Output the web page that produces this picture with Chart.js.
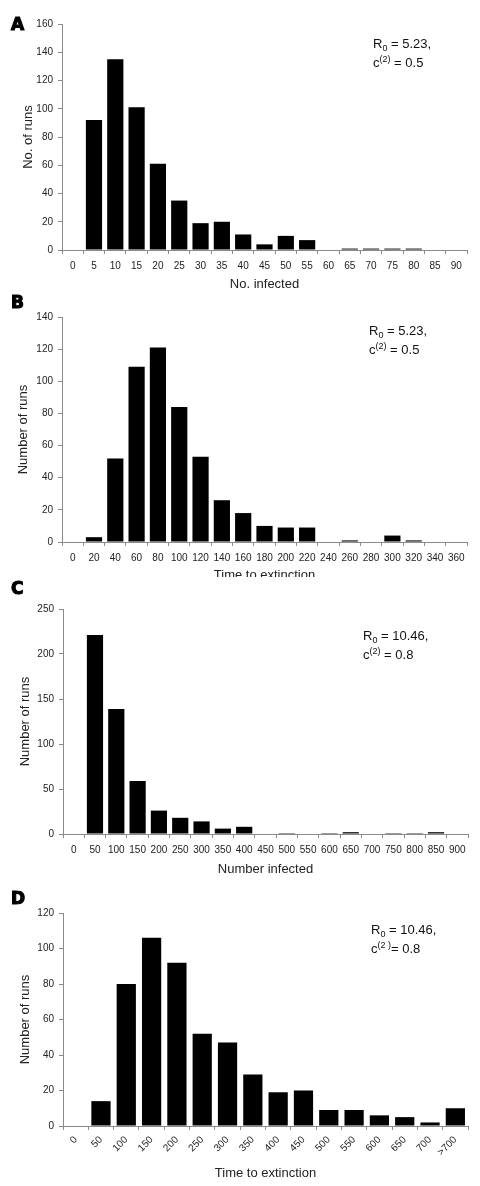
<!DOCTYPE html>
<html>
<head>
<meta charset="utf-8">
<script src="https://cdn.jsdelivr.net/npm/chart.js@4/dist/chart.umd.min.js"></script>
<style>
  html, body { margin: 0; padding: 0; background: #fff; }
  body { width: 480px; height: 1186px; position: relative; overflow: hidden; font-family: "Liberation Sans", Arial, sans-serif; }
  .panel { position: absolute; left: 0; width: 480px; overflow: hidden; }
  .panel canvas { display: block; }
  .letter { position: absolute; left: 11px; font: bold 17px "DejaVu Sans", sans-serif; line-height: 16px; color: #000; -webkit-text-stroke: 1.1px #000; }
  .note { position: absolute; font-size: 13px; line-height: 19px; color: #111; }
  .note sub { font-size: 9px; vertical-align: -3px; line-height: 0; }
  .note sup { font-size: 9px; vertical-align: 5px; line-height: 0; }
</style>
</head>
<body>
<div class="panel" style="top:0;height:292px"><canvas id="chartA"></canvas></div>
<div class="panel" style="top:290px;height:287px"><canvas id="chartB"></canvas></div>
<div class="panel" style="top:590px;height:287px"><canvas id="chartC"></canvas></div>
<div class="panel" style="top:880px;height:301px"><canvas id="chartD"></canvas></div>

<div class="letter" style="top:16px">A</div>
<div class="letter" style="top:294px">B</div>
<div class="letter" style="top:580px">C</div>
<div class="letter" style="top:890px">D</div>

<div class="note" style="left:373px;top:34px">R<sub>0</sub> = 5.23,<br>c<sup>(2)</sup> = 0.5</div>
<div class="note" style="left:369px;top:321px">R<sub>0</sub> = 5.23,<br>c<sup>(2)</sup> = 0.5</div>
<div class="note" style="left:363px;top:626px">R<sub>0</sub> = 10.46,<br>c<sup>(2)</sup> = 0.8</div>
<div class="note" style="left:371px;top:920px">R<sub>0</sub> = 10.46,<br>c<sup>(2 )</sup>= 0.8</div>

<script>
// panel A - number infected, R0 = 5.23
const labelsA = ['0','5','10','15','20','25','30','35','40','45','50','55','60','65','70','75','80','85','90'];
const runsA = [0, 92, 135, 101, 61, 35, 19, 20, 11, 4, 10, 7, 0, 1, 1, 1, 1, 0, 0];

// panel B - time to extinction, R0 = 5.23
const labelsB = ['0','20','40','60','80','100','120','140','160','180','200','220','240','260','280','300','320','340','360'];
const runsB = [0, 3, 52, 109, 121, 84, 53, 26, 18, 10, 9, 9, 0, 1, 0, 4, 1, 0, 0];

// panel C - number infected, R0 = 10.46
const labelsC = ['0','50','100','150','200','250','300','350','400','450','500','550','600','650','700','750','800','850','900'];
const runsC = [0, 221, 139, 59, 26, 18, 14, 6, 8, 0, 1, 0, 1, 2, 0, 1, 1, 2, 0];

// panel D - time to extinction, R0 = 10.46
const labelsD = ['0','50','100','150','200','250','300','350','400','450','500','550','600','650','700','>700'];
const runsD = [0, 14, 80, 106, 92, 52, 47, 29, 19, 20, 9, 9, 6, 5, 2, 10];

const axisGrey = '#8a8a8a';
const textCol = '#222';

function makeChart(id, labels, values, yMax, yStep, xTitle, yTitle, g) {
  const cv = document.getElementById(id);
  cv.width = 480;
  cv.height = g.h;
  cv.style.width = '480px';
  cv.style.height = g.h + 'px';
  return new Chart(cv.getContext('2d'), {
    type: 'bar',
    data: {
      labels: labels,
      datasets: [{
        data: values,
        backgroundColor: '#000',
        borderWidth: 0,
        barPercentage: 0.76,
        categoryPercentage: 1
      }]
    },
    options: {
      responsive: false,
      animation: false,
      layout: { padding: { top: g.top, right: g.right, left: 0, bottom: 0 } },
      plugins: { legend: { display: false }, tooltip: { enabled: false } },
      scales: {
        x: {
          offset: true,
          grid: { offset: true, drawOnChartArea: false, drawTicks: true, tickLength: 4, color: axisGrey },
          border: { color: axisGrey, width: 1 },
          ticks: {
            autoSkip: false,
            maxRotation: g.rot, minRotation: g.rot,
            padding: g.rot ? 4 : 6,
            color: textCol,
            font: { family: 'Liberation Sans', size: 10 }
          },
          title: {
            display: true, text: xTitle, color: textCol,
            padding: { top: 0, bottom: 0 },
            font: { family: 'Liberation Sans', size: 13 }
          },
          afterFit: (s) => { s.height = g.xh; }
        },
        y: {
          min: 0, max: yMax,
          grid: { drawOnChartArea: false, drawTicks: true, tickLength: 4, color: axisGrey },
          border: { color: axisGrey, width: 1 },
          ticks: {
            stepSize: yStep, padding: 5, color: textCol,
            font: { family: 'Liberation Sans', size: 10 }
          },
          title: {
            display: true, text: yTitle, color: textCol,
            padding: { top: g.yt, bottom: 0 },
            font: { family: 'Liberation Sans', size: 13 }
          },
          afterFit: (s) => { s.width = g.left; }
        }
      }
    }
  });
}

makeChart('chartA', labelsA, runsA, 160, 20, 'No. infected', 'No. of runs',
  { h: 292, top: 24, right: 13, left: 62, xh: 42, yt: 21, rot: 0 });
makeChart('chartB', labelsB, runsB, 140, 20, 'Time to extinction', 'Number of runs',
  { h: 293, top: 27, right: 13, left: 62, xh: 41, yt: 16, rot: 0 });
makeChart('chartC', labelsC, runsC, 250, 50, 'Number infected', 'Number of runs',
  { h: 287, top: 19, right: 12, left: 63, xh: 43, yt: 18, rot: 0 });
makeChart('chartD', labelsD, runsD, 120, 20, 'Time to extinction', 'Number of runs',
  { h: 301, top: 33, right: 12, left: 63, xh: 55, yt: 18, rot: 45 });
</script>
</body>
</html>
